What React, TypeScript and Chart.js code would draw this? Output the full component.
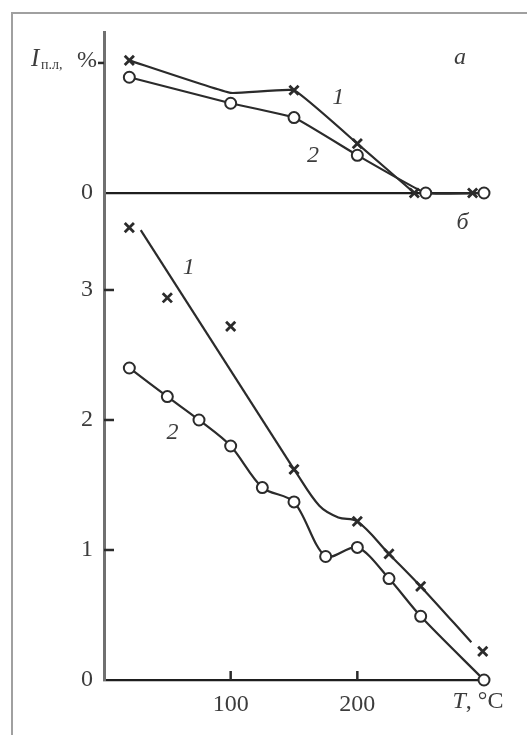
import React, { useEffect, useRef } from 'react';
import { Chart, registerables } from 'chart.js';

Chart.register(...registerables);

// ---- axes ----
const T_MIN = 0;
const T_MAX = 300;
const X_TICK_LABELS = [100, 200];
const YB_TICKS = [0, 1, 2, 3];
const YA_TICKS = [0, 1];
const YB_MAX = 3.746;
const YA_MAX = 1.238;

// ---- panel а (upper) ----
const A1_T = [20, 150, 200, 245, 291];
const A1_V = [1.02, 0.79, 0.38, 0, 0];
const A1_LINE_T = [20, 100, 150, 200, 245];
const A1_LINE_V = [1.02, 0.77, 0.79, 0.38, 0];
const A2_T = [20, 100, 150, 200, 254, 300];
const A2_V = [0.89, 0.69, 0.58, 0.29, 0, 0];

// ---- panel б (lower) ----
const B1_T = [20, 50, 100, 150, 200, 225, 250, 299];
const B1_V = [3.48, 2.94, 2.72, 1.62, 1.22, 0.97, 0.72, 0.22];
const B1_FIT_T = [29, 150];
const B1_FIT_V = [3.46, 1.62];
const B1_CURVE_T = [150, 170, 185, 200, 225, 250, 290];
const B1_CURVE_V = [1.62, 1.34, 1.25, 1.22, 0.97, 0.72, 0.29];
const B2_T = [20, 50, 75, 100, 125, 150, 175, 200, 225, 250, 300];
const B2_V = [2.4, 2.18, 2.0, 1.8, 1.48, 1.37, 0.95, 1.02, 0.78, 0.49, 0];

// ---- annotations (text placed in data coordinates) ----
const NOTE_TEXT = ['1', '2', '1', '2', 'а', 'б'];
const NOTE_T = [185, 165, 67, 54, 281, 283];
const NOTE_V = [0.73, 0.29, 3.17, 1.9, 1.04, 3.52];
const NOTE_AXIS = ['yA', 'yA', 'yB', 'yB', 'yA', 'yB'];

const FONT = '"Liberation Serif", "Times New Roman", serif';
const INK = '#2b2b2b';
const LABEL = '#3c3c3c';

const pts = (t: number[], v: number[]) => t.map((x, i) => ({ x, y: v[i] }));

const decor = {
  id: 'decor',
  afterDatasetsDraw(chart: any) {
    const { ctx, chartArea } = chart;
    const sx = chart.scales.x;
    const sa = chart.scales.yA;
    const sb = chart.scales.yB;
    const left = chartArea.left;
    const bottom = chartArea.bottom;
    ctx.save();
    ctx.strokeStyle = INK;
    ctx.lineWidth = 2.5;
    ctx.lineCap = 'butt';
    // inward ticks on lower y-axis
    for (const v of YB_TICKS) {
      if (v === 0) continue;
      const py = sb.getPixelForValue(v);
      ctx.beginPath();
      ctx.moveTo(left, py);
      ctx.lineTo(left + 10, py);
      ctx.stroke();
    }
    // outward tick on upper y-axis
    for (const v of YA_TICKS) {
      if (v === 0) continue;
      const py = sa.getPixelForValue(v);
      ctx.beginPath();
      ctx.moveTo(left - 6, py);
      ctx.lineTo(left, py);
      ctx.stroke();
    }
    // inward x ticks
    for (const v of X_TICK_LABELS) {
      const px = sx.getPixelForValue(v);
      ctx.beginPath();
      ctx.moveTo(px, bottom);
      ctx.lineTo(px, bottom - 9);
      ctx.stroke();
    }

    // notes
    ctx.fillStyle = LABEL;
    ctx.textAlign = 'center';
    ctx.textBaseline = 'middle';
    ctx.font = `italic 24px ${FONT}`;
    NOTE_TEXT.forEach((txt, i) => {
      const s = NOTE_AXIS[i] === 'yA' ? sa : sb;
      ctx.fillText(txt, sx.getPixelForValue(NOTE_T[i]), s.getPixelForValue(NOTE_V[i]));
    });

    // y-axis title: I_п.л, %
    const yTop = sa.getPixelForValue(1);
    ctx.textAlign = 'left';
    ctx.textBaseline = 'alphabetic';
    ctx.font = `italic 25px ${FONT}`;
    ctx.fillText('I', 31, yTop + 3);
    ctx.font = `14px ${FONT}`;
    ctx.fillText('п.л,', 41, yTop + 6);
    ctx.font = `24px ${FONT}`;
    ctx.fillText('%', 77, yTop + 4);

    // x-axis title: T, °C
    const xEnd = sx.getPixelForValue(T_MAX);
    const yLab = bottom + 22;
    ctx.textBaseline = 'middle';
    ctx.font = `italic 24px ${FONT}`;
    const tW = ctx.measureText('T').width;
    ctx.font = `24px ${FONT}`;
    const rest = ', °C';
    const rW = ctx.measureText(rest).width;
    const start = xEnd - (tW + rW) / 2 - 6;
    ctx.font = `italic 24px ${FONT}`;
    ctx.fillText('T', start, yLab);
    ctx.font = `24px ${FONT}`;
    ctx.fillText(rest, start + tW, yLab);
    ctx.restore();
  },
};

export default function App() {
  const ref = useRef<HTMLCanvasElement | null>(null);

  useEffect(() => {
    if (!ref.current) return;
    Chart.defaults.font.family = FONT;
    const markerX = {
      pointStyle: 'crossRot',
      pointRadius: 6.5,
      pointBorderWidth: 2.8,
      pointBorderColor: INK,
      pointBackgroundColor: INK,
      showLine: false,
      clip: false,
    };
    const markerO = {
      pointStyle: 'circle',
      pointRadius: 5.5,
      pointBorderWidth: 2,
      pointBorderColor: INK,
      pointBackgroundColor: '#ffffff',
      showLine: false,
      clip: false,
    };
    const lineStyle = {
      borderColor: INK,
      borderWidth: 2.2,
      pointRadius: 0,
      fill: false,
      clip: false,
    };
    const chart = new Chart(ref.current, {
      type: 'scatter',
      data: {
        datasets: [
          { ...markerO, data: pts(A2_T, A2_V), xAxisID: 'x', yAxisID: 'yA' },
          { ...markerX, data: pts(A1_T, A1_V), xAxisID: 'x', yAxisID: 'yA' },
          { ...markerO, data: pts(B2_T, B2_V), xAxisID: 'x', yAxisID: 'yB' },
          { ...markerX, data: pts(B1_T, B1_V), xAxisID: 'x', yAxisID: 'yB' },
          { ...lineStyle, showLine: true, tension: 0.1, data: pts(A1_LINE_T, A1_LINE_V), xAxisID: 'x', yAxisID: 'yA' },
          { ...lineStyle, showLine: true, tension: 0.1, data: pts(A2_T, A2_V), xAxisID: 'x', yAxisID: 'yA' },
          { ...lineStyle, showLine: true, tension: 0, data: pts(B1_FIT_T, B1_FIT_V), xAxisID: 'x', yAxisID: 'yB' },
          { ...lineStyle, showLine: true, tension: 0.35, data: pts(B1_CURVE_T, B1_CURVE_V), xAxisID: 'x', yAxisID: 'yB' },
          { ...lineStyle, showLine: true, tension: 0.3, data: pts(B2_T, B2_V), xAxisID: 'x', yAxisID: 'yB' },
        ] as any,
      },
      options: {
        responsive: false,
        animation: false,
        events: [],
        layout: { padding: { top: 32, right: 43, left: 0, bottom: 0 } },
        plugins: { legend: { display: false }, tooltip: { enabled: false } },
        scales: {
          x: {
            type: 'linear',
            position: 'bottom',
            min: T_MIN,
            max: T_MAX,
            afterFit: (s: any) => { s.height = 55; },
            grid: { display: false, drawTicks: false },
            border: { display: true, color: '#1e1e1e', width: 2.2 },
            ticks: {
              stepSize: 100,
              padding: 10,
              color: LABEL,
              font: { size: 24, family: FONT },
              callback: (v: any) => (X_TICK_LABELS.includes(Number(v)) ? String(v) : ''),
            },
          },
          yA: {
            type: 'linear',
            position: 'left',
            stack: 'v',
            stackWeight: 161,
            weight: 2,
            min: 0,
            max: YA_MAX,
            afterFit: (s: any) => { s.width = 104; },
            grid: {
              display: true,
              drawTicks: false,
              drawOnChartArea: true,
              lineWidth: 2.2,
              color: (c: any) => (c.tick && c.tick.value === 0 ? '#1e1e1e' : 'rgba(0,0,0,0)'),
            },
            border: { display: true, color: '#707070', width: 3 },
            ticks: {
              stepSize: 1,
              includeBounds: false,
              padding: 11,
              color: LABEL,
              font: { size: 24, family: FONT },
              callback: (v: any) => (Number(v) === 0 ? '0' : ''),
            },
          },
          yB: {
            type: 'linear',
            position: 'left',
            stack: 'v',
            stackWeight: 487,
            weight: 1,
            min: 0,
            max: YB_MAX,
            afterFit: (s: any) => { s.width = 104; },
            grid: { display: false, drawTicks: false },
            border: { display: true, color: '#707070', width: 3 },
            ticks: {
              stepSize: 1,
              includeBounds: false,
              padding: 11,
              color: LABEL,
              font: { size: 24, family: FONT },
              callback: (v: any) => (YB_TICKS.includes(Number(v)) ? String(v) : ''),
            },
          },
        },
      } as any,
      plugins: [decor],
    });
    return () => chart.destroy();
  }, []);

  return (
    <div
      style={{
        position: 'absolute',
        left: 0,
        top: 0,
        width: 527,
        height: 735,
        overflow: 'hidden',
        background: '#ffffff',
      }}
    >
      <div
        style={{
          position: 'absolute',
          left: 11,
          top: 12,
          width: 600,
          height: 800,
          borderLeft: '2px solid #a0a0a0',
          borderTop: '2px solid #a0a0a0',
        }}
      />
      <canvas ref={ref} width={527} height={735} style={{ position: 'absolute', left: 0, top: 0 }} />
    </div>
  );
}
